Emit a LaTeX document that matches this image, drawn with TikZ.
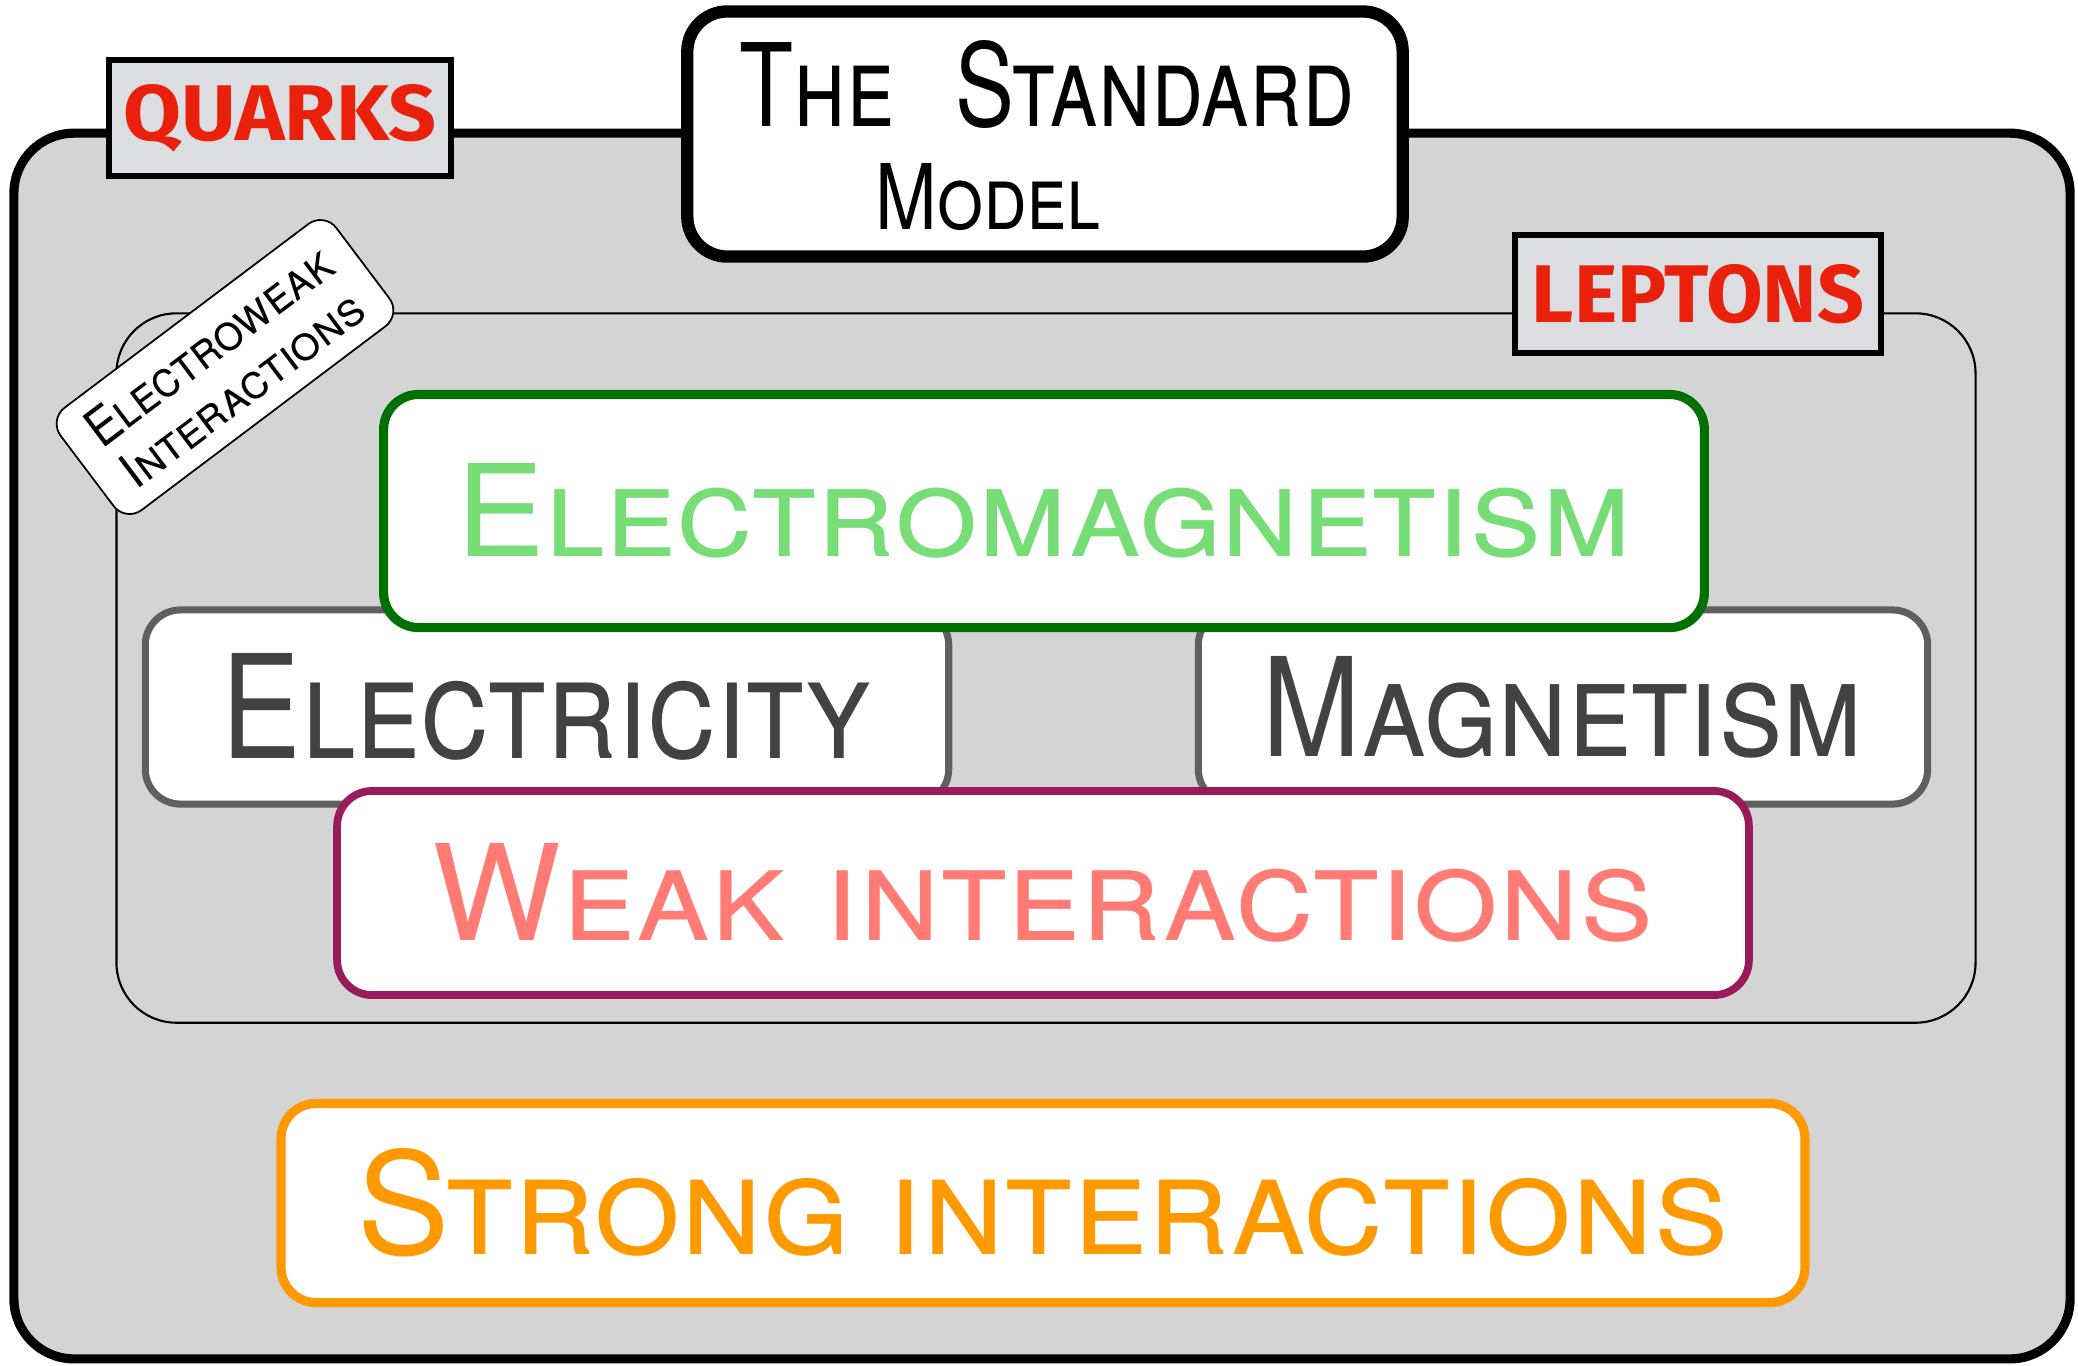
\documentclass[tikz,border=0pt]{standalone}
\usepackage{fontspec}
\setmainfont{TeX Gyre Heros}
\newfontfamily\labelfont{Fira Sans}
\usepackage{graphicx}
\usepackage{tikz}
\tikzset{>=latex}
\definecolor{framegray}{HTML}{D4D4D4}
\definecolor{labelgray}{HTML}{DCDDE0}
\definecolor{labelred}{HTML}{E8200C}
\definecolor{emdark}{HTML}{007000}
\definecolor{emlight}{HTML}{77DD77}
\definecolor{elgray}{HTML}{5F5F5F}
\definecolor{eltext}{HTML}{424242}
\definecolor{weakdark}{HTML}{9A1B5C}
\definecolor{weaklight}{HTML}{FF7B73}
\definecolor{strongcol}{HTML}{FF9900}
\newcommand{\fitsc}[3]{\resizebox{#1}{#2}{\textsc{#3}}}
\newcommand{\fitlabel}[3]{\resizebox{#1}{#2}{\labelfont\bfseries #3}}
\tikzset{
    smframe/.style={draw, line width=2.6pt, rounded corners=0.6cm, fill=framegray, inner sep=0pt},
    inframe/.style={draw, line width=0.6pt, rounded corners=0.6cm, inner sep=0pt},
    particle/.style={draw, line width=1.5pt, fill=labelgray, text=labelred, inner sep=0pt},
    titlebox/.style={draw, line width=3.5pt, rounded corners=0.4cm, fill=white, inner sep=0pt},
    ewtag/.style={draw, line width=0.5pt, rounded corners=0.2cm, fill=white, inner sep=0pt, align=center},
    force/.style={draw, fill=white, rounded corners=0.35cm, inner sep=0pt},
}

\begin{document}
\begin{tikzpicture}[x=0.01cm, y=-0.01cm]
    \useasboundingbox (0,0) rectangle (2078,1365);

    \node[smframe, minimum width=20.55cm, minimum height=12.25cm] (sm) at (1042,746) {};
    \node[particle, minimum width=3.42cm, minimum height=1.16cm] (quarks) at (280,118)
        {\fitlabel{3.13cm}{0.56cm}{QUARKS}};
    \node[titlebox, minimum width=7.15cm, minimum height=2.45cm] (title) at (1045,134) {};
    \node (titleA) at (1047,84) {\fitsc{6.15cm}{0.86cm}{The\hspace{0.7em}Standard}};
    \node (titleB) at (988,197) {\fitsc{2.25cm}{0.66cm}{Model}};

    \node[inframe, minimum width=18.58cm, minimum height=7.09cm] (ew) at (1046,668) {};
    \node[particle, minimum width=3.66cm, minimum height=1.18cm] (leptons) at (1698,294)
        {\fitlabel{3.32cm}{0.58cm}{LEPTONS}};
    \node[ewtag, rotate=37, minimum width=3.45cm, minimum height=1.28cm] (ewlabel) at (225,367)
        {\fitsc{2.95cm}{0.38cm}{Electroweak}\\[0.12cm]\fitsc{2.9cm}{0.36cm}{Interactions}};

    \node[force, draw=elgray, line width=2pt, text=eltext, minimum width=8.03cm, minimum height=1.94cm] (elec) at (547,707)
        {\fitsc{6.5cm}{1.05cm}{Electricity}};
    \node[force, draw=elgray, line width=2pt, text=eltext, minimum width=7.29cm, minimum height=1.94cm] (magn) at (1563,707)
        {\fitsc{6.0cm}{1.0cm}{Magnetism}};
    \node[force, draw=emdark, line width=2.6pt, text=emlight, minimum width=13.2cm, minimum height=2.33cm] (em) at (1044,511)
        {\fitsc{11.75cm}{0.93cm}{Electromagnetism}};
    \node[force, draw=weakdark, line width=2.2pt, text=weaklight, minimum width=14.11cm, minimum height=2.04cm] (weak) at (1043,893)
        {\fitsc{12.2cm}{0.97cm}{Weak interactions}};
    \node[force, draw=strongcol, line width=2.6pt, text=strongcol, minimum width=15.23cm, minimum height=1.99cm] (strong) at (1043,1203)
        {\fitsc{13.7cm}{1.06cm}{Strong interactions}};
\end{tikzpicture}
\end{document}
